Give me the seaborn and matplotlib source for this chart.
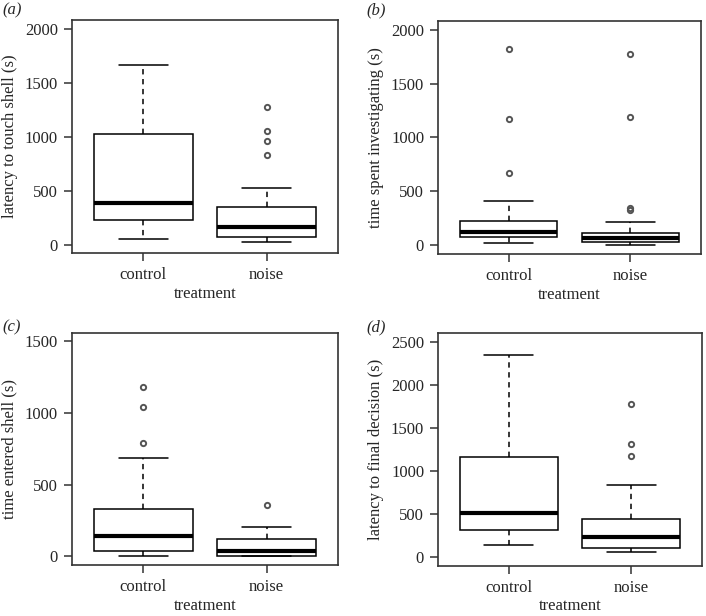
import pandas as pd
import seaborn as sns
import matplotlib.pyplot as plt

groups = ["control", "noise"]

# five-number summaries: lower whisker, Q1, median, Q3, upper whisker
touch_stats = [[56, 229, 389, 1029, 1663], [22, 74, 161, 352, 525]]
touch_out = [[], [832, 964, 1057, 1274]]

invest_stats = [[22, 74, 124, 226, 408], [0, 34, 68, 117, 216]]
invest_out = [[674, 1175, 1824], [331, 343, 1193, 1777]]

entered_stats = [[0, 35, 139, 330, 687], [0, 5, 37, 121, 202]]
entered_out = [[790, 1045, 1182], [358]]

decision_stats = [[135, 310, 511, 1161, 2341], [54, 108, 232, 445, 840]]
decision_out = [[], [1176, 1308, 1780]]


# rebuild a sample whose quartiles / whisker ends give back the summary
def expand(stats, outliers):
    lo, q1, med, q3, hi = stats
    j = len(outliers) + 1
    return [lo] + [q1] * j + [med] * j + [q3] * j + [hi] + list(outliers)


def make_table(stats, outliers):
    rows = []
    for g, s, o in zip(groups, stats, outliers):
        for v in expand(s, o):
            rows.append({"treatment": g, "value": v})
    return pd.DataFrame(rows)


sns.set_style("white")
plt.rcParams["font.family"] = ["Liberation Serif", "DejaVu Serif"]
plt.rcParams["axes.edgecolor"] = "#333333"
plt.rcParams["axes.linewidth"] = 1.2

W, H = 706, 616
fig = plt.figure(figsize=(W / 100, H / 100), dpi=100)

# (tag, y label, stats, outliers, y max, axes rect, tag position in px)
panels = [
    ("(a)", "latency to touch shell (s)", touch_stats, touch_out, 2000,
     [0.1016, 0.5888, 0.3776, 0.3787], (2, 10)),
    ("(b)", "time spent investigating (s)", invest_stats, invest_out, 2000,
     [0.6204, 0.5877, 0.3725, 0.3782], (366, 10)),
    ("(c)", "time entered shell (s)", entered_stats, entered_out, 1500,
     [0.1016, 0.0828, 0.3776, 0.3771], (2, 327)),
    ("(d)", "latency to final decision (s)", decision_stats, decision_out, 2500,
     [0.6204, 0.0817, 0.3739, 0.3778], (366, 327)),
]

for tag, ylab, stats, outl, ymax, rect, tpos in panels:
    ax = fig.add_axes(rect)
    df = make_table(stats, outl)
    sns.boxplot(
        data=df, x="treatment", y="value", order=groups, ax=ax,
        width=0.8, color="white", linecolor="black", linewidth=1.1, whis=1.5,
        medianprops=dict(color="black", linewidth=3),
        whiskerprops=dict(color="black", linewidth=1.1, linestyle=(0, (3.5, 3))),
        capprops=dict(color="black", linewidth=1.1),
        flierprops=dict(marker="o", markersize=3.8, markerfacecolor="none",
                        markeredgecolor="#555555", markeredgewidth=1.4),
    )
    pad = ymax * 0.04
    ax.set_ylim(-pad, ymax + pad)
    ax.set_xlim(-0.58, 1.58)
    ax.set_yticks(range(0, ymax + 1, 500))
    ax.tick_params(axis="both", which="both", direction="out", length=6,
                   width=1.1, color="#333333", labelsize=12, pad=4,
                   left=True, bottom=True)
    ax.set_xlabel("treatment", fontsize=12, labelpad=2)
    ax.set_ylabel(ylab, fontsize=12, labelpad=5)
    for sp in ax.spines.values():
        sp.set_visible(True)
    fig.text(tpos[0] / W, 1 - tpos[1] / H, tag, fontsize=12, style="italic",
             ha="left", va="center")

fig.savefig("out.png", dpi=100)
